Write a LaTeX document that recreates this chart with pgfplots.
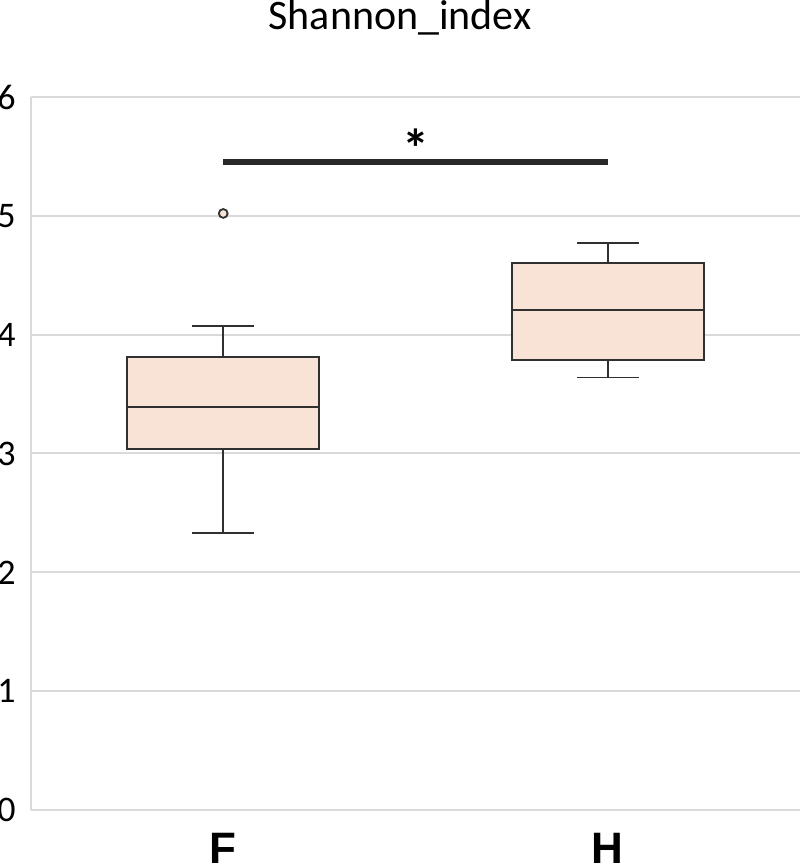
\documentclass[border=0pt]{standalone}
\usepackage{fontspec}
\setmainfont{Carlito}
\newfontfamily\labelfont{Liberation Sans}
\usepackage{pgfplots}
\pgfplotsset{compat=1.18}
\usepgfplotslibrary{statistics}

\definecolor{boxfill}{HTML}{F9E3D6}
\definecolor{boxdraw}{HTML}{303030}
\definecolor{gridgray}{HTML}{D9D9D9}

\begin{document}
\begin{tikzpicture}
\begin{axis}[
    scale only axis,
    width=384.5pt,
    height=356.5pt,
    xmin=0.5, xmax=2.5,
    ymin=0, ymax=6,
    ytick={0,1,2,3,4,5,6},
    xtick={1,2},
    xticklabels={F,H},
    axis lines*=left,
    axis line style={draw=gridgray, line width=1pt, -},
    ymajorgrids,
    grid style={gridgray, line width=1pt},
    major tick length=0pt,
    /pgf/number format/assume math mode=true,
    yticklabel style={anchor=east, inner sep=0pt, xshift=-7.5pt, font=\fontsize{18}{18}\selectfont},
    xticklabel style={anchor=base, inner sep=0pt, yshift=-26.5pt, font=\labelfont\fontsize{22}{22}\bfseries},
    title={Shannon\_index},
    title style={anchor=base, at={(axis description cs:0.48,1)}, yshift=27.5pt, inner sep=0pt, font=\fontsize{21}{21}\selectfont},
    boxplot/draw direction=y,
    clip=false,
]
% F group
\addplot+[
    boxplot prepared={
        draw direction=y,
        median=3.39, upper quartile=3.81, lower quartile=3.04,
        upper whisker=4.07, lower whisker=2.33,
        draw position=1, box extend=0.5, whisker extend=0.16},
    draw=boxdraw, fill=boxfill, line width=0.9pt, solid,
    mark=*, mark size=2.2pt, mark options={draw=boxdraw, fill=boxfill, line width=0.9pt},
] table[row sep=\\, y index=0] {5.02\\};
% H group
\addplot+[
    boxplot prepared={
        draw direction=y,
        median=4.21, upper quartile=4.60, lower quartile=3.79,
        upper whisker=4.77, lower whisker=3.64,
        draw position=2, box extend=0.5, whisker extend=0.16},
    draw=boxdraw, fill=boxfill, line width=0.9pt, solid,
] coordinates {};
% significance bar
\addplot[color=boxdraw!85!black, line width=3pt, forget plot] coordinates {(1,5.455) (2,5.455)};
\node[font=\fontsize{27}{27}\bfseries, anchor=base] at (axis cs:1.5,5.41) {*};
\end{axis}
\pgfresetboundingbox
\path[use as bounding box] (-15.5pt,-28pt) rectangle (384.5pt,405pt);
\end{tikzpicture}
\end{document}
